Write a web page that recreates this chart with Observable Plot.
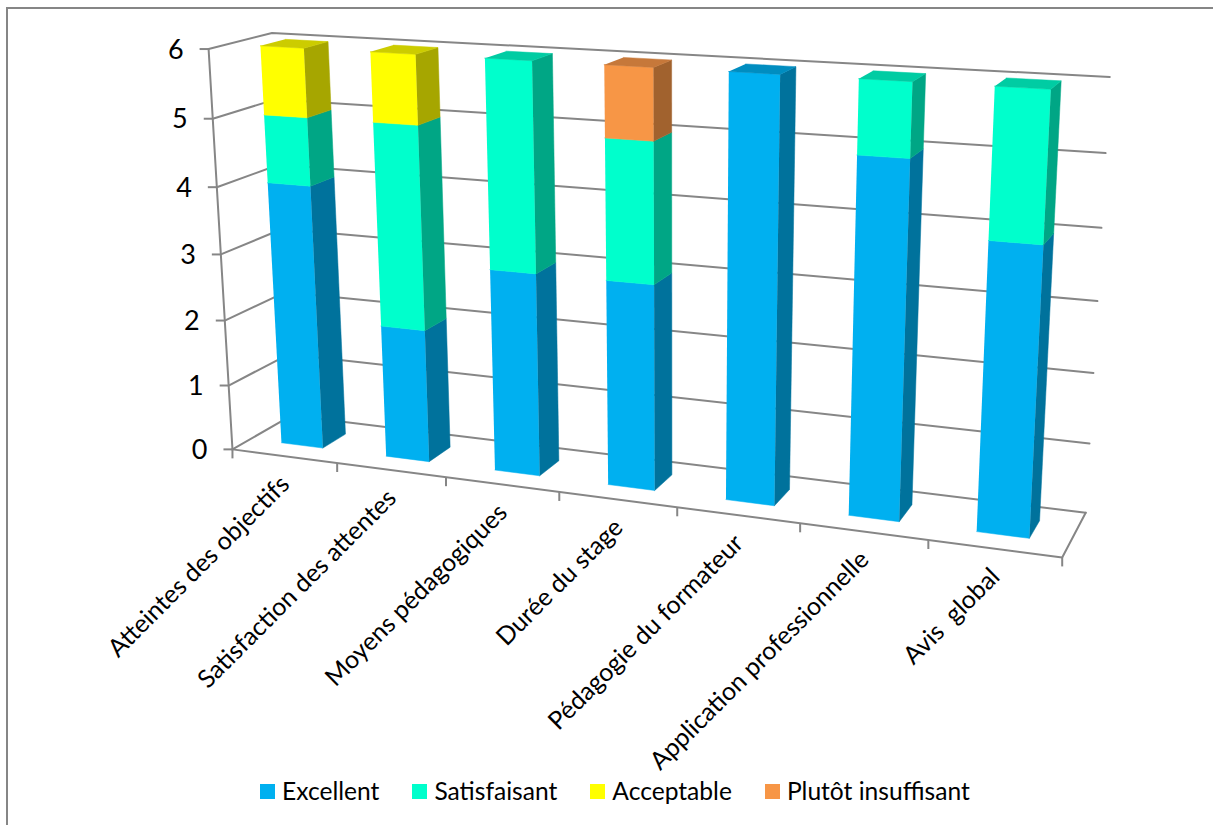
<!DOCTYPE html>
<html lang="fr">
<head>
<meta charset="utf-8">
<script src="https://cdn.jsdelivr.net/npm/d3@7"></script>
<script src="https://cdn.jsdelivr.net/npm/@observablehq/plot@0.6"></script>
<style>
html,body{margin:0;padding:0;background:#fff;}
#page{position:relative;width:1213px;height:825px;overflow:hidden;font-family:Lato,sans-serif;}
#frame{position:absolute;left:6px;top:7px;right:-4px;bottom:-4px;border:2px solid #868686;pointer-events:none;}
#chart svg{display:block;}
#legend{position:absolute;left:260px;top:778px;display:flex;align-items:center;font-size:24.6px;color:#000;line-height:26px;white-space:pre;}
#legend span.sw{display:inline-block;width:15px;height:15px;margin-right:7px;}
#legend span.it{margin-right:33px;display:flex;align-items:center;}
</style>
</head>
<body>
<div id="page"><div id="chart"></div><div id="legend"></div><div id="frame"></div></div>
<script>
const categories = ["Atteintes des objectifs","Satisfaction des attentes","Moyens pédagogiques","Durée du stage","Pédagogie du formateur","Application professionnelle","Avis  global"];
const seriesNames = ["Excellent","Satisfaisant","Acceptable","Plutôt insuffisant"];
const excellent    = [4,2,3,3,6,5,4];
const satisfaisant = [1,3,3,2,0,1,2];
const acceptable   = [1,1,0,0,0,0,0];
const insuffisant  = [0,0,0,1,0,0,0];
const seriesValues = [excellent,satisfaisant,acceptable,insuffisant];
const yTicks = [0,1,2,3,4,5,6];
const frontColors = ["#00B0F0","#00FFCC","#FFFF00","#F79646"];
const sideColors  = ["#00729C","#00A685","#A6A600","#A1622E"];
const topColors   = ["#008DC0","#00CCA3","#CCCC00","#C6783A"];

// Camera of the 3D view: fitted from where the cage of the chart sits on the page.
const W = 1213, H = 778, N = categories.length, VMAX = 6;
const cage = [ // category pos (0..N), value, depth (0..1), page x, page y
  [0,0,0,232,449],[0,6,0,208,48],[0,5,0,213,118],[0,4,0,217.5,186],[0,1,0,228,385],
  [0,0,1,292,415],[0,6,1,270,33],
  [1,0,0,336,463],[2,0,0,445,477],[6,0,0,927,540],[7,0,0,1062,557],
  [7,0,1,1084,512],[7,1,1,1090,442],[7,2,1,1094,372],[7,3,1,1097,300],[7,4,1,1101,228],[7,5,1,1105,153],[7,6,1,1109,77]
];
function solve(A,b){
  const n=b.length, M=A.map((r,i)=>[...r,b[i]]);
  for(let i=0;i<n;i++){
    let p=i; for(let k=i+1;k<n;k++) if(Math.abs(M[k][i])>Math.abs(M[p][i])) p=k;
    [M[i],M[p]]=[M[p],M[i]];
    for(let k=i+1;k<n;k++){const f=M[k][i]/M[i][i]; for(let j=i;j<=n;j++) M[k][j]-=f*M[i][j];}
  }
  const x=new Array(n).fill(0);
  for(let i=n-1;i>=0;i--){let s=M[i][n]; for(let j=i+1;j<n;j++) s-=M[i][j]*x[j]; x[i]=s/M[i][i];}
  return x;
}
const cam = (()=>{
  const rows=[],rhs=[];
  for(const [u,v,w,x,y] of cage){
    rows.push([u,v,w,1,0,0,0,0,-x*u,-x*v,-x*w]);rhs.push(x);
    rows.push([0,0,0,0,u,v,w,1,-y*u,-y*v,-y*w]);rhs.push(y);
  }
  const A=Array.from({length:11},(_,i)=>Array.from({length:11},(_,j)=>d3.sum(rows,r=>r[i]*r[j])));
  const b=Array.from({length:11},(_,i)=>d3.sum(rows,(r,k)=>r[i]*rhs[k]));
  return solve(A,b);
})();
function project(u,v,w){
  const d=cam[8]*u+cam[9]*v+cam[10]*w+1;
  return [(cam[0]*u+cam[1]*v+cam[2]*w+cam[3])/d,(cam[4]*u+cam[5]*v+cam[6]*w+cam[7])/d];
}

// Faces of the stacked columns
const GAP=0.3, DEPTH0=0.3, DEPTH1=0.7;
const faces=[];
function addFace(id,fill,pts){pts.forEach(p=>{const [x,y]=project(...p);faces.push({id,fill,x,y});});}
categories.forEach((c,i)=>{
  const u0=i+GAP,u1=i+1-GAP;
  let base=0;
  let last=-1;
  seriesValues.forEach((s,k)=>{
    if(!s[i]) return;
    const t=base+s[i];
    addFace(`f${i}-${k}`,frontColors[k],[[u0,base,DEPTH0],[u1,base,DEPTH0],[u1,t,DEPTH0],[u0,t,DEPTH0]]);
    addFace(`s${i}-${k}`,sideColors[k],[[u1,base,DEPTH0],[u1,base,DEPTH1],[u1,t,DEPTH1],[u1,t,DEPTH0]]);
    base=t; last=k;
  });
  addFace(`t${i}`,topColors[last],[[u0,base,DEPTH0],[u1,base,DEPTH0],[u1,base,DEPTH1],[u0,base,DEPTH1]]);
});

// Cage lines
const lines=[];
function addLine(id,pts){pts.forEach(p=>{const [x,y]=project(...p);lines.push({id,x,y});});}
yTicks.forEach(v=>addLine("g"+v,[[0,v,0],[0,v,1],[N,v,1]]));
addLine("axisY",[[0,0,0],[0,VMAX,0]]);
addLine("floor",[[0,0,0],[N,0,0],[N,0,1]]);
const tickStubs=[];
yTicks.forEach(v=>{const [x,y]=project(0,v,0);tickStubs.push({x1:x-9,y1:y,x2:x,y2:y});});
d3.range(N+1).forEach(i=>{const [x,y]=project(i,0,0);tickStubs.push({x1:x,y1:y,x2:x,y2:y+9});});

const yLabels=yTicks.map(v=>{const [x,y]=project(0,v,0);return {t:String(v),x:x-25,y:y+1};});
const xLabels=categories.map((c,i)=>{const [x,y]=project(i+.5,0,0);return {t:c,x:x+1,y:y+24};});

const chart=Plot.plot({
  width:W,height:H,margin:0,
  x:{domain:[0,W],range:[0,W],axis:null},
  y:{domain:[0,H],range:[0,H],axis:null},
  style:{background:"transparent",fontFamily:"Lato, sans-serif"},
  marks:[
    Plot.line(lines,{x:"x",y:"y",z:"id",stroke:"#868686",strokeWidth:2}),
    Plot.link(tickStubs,{x1:"x1",y1:"y1",x2:"x2",y2:"y2",stroke:"#868686",strokeWidth:2}),
    Plot.line(faces,{x:"x",y:"y",z:"id",fill:"fill",stroke:"fill",strokeWidth:0.5}),
    Plot.text(yLabels,{x:"x",y:"y",text:"t",textAnchor:"end",fontSize:27,fill:"#000"}),
    Plot.text(xLabels,{x:"x",y:"y",text:"t",textAnchor:"end",rotate:-45,fontSize:25,fill:"#000"})
  ]
});
document.getElementById("chart").appendChild(chart);

const lg=document.getElementById("legend");
seriesNames.forEach((n,k)=>{
  const it=document.createElement("span");it.className="it";
  const sw=document.createElement("span");sw.className="sw";sw.style.background=frontColors[k];
  it.appendChild(sw);it.appendChild(document.createTextNode(n));lg.appendChild(it);
});
</script>
</body>
</html>
